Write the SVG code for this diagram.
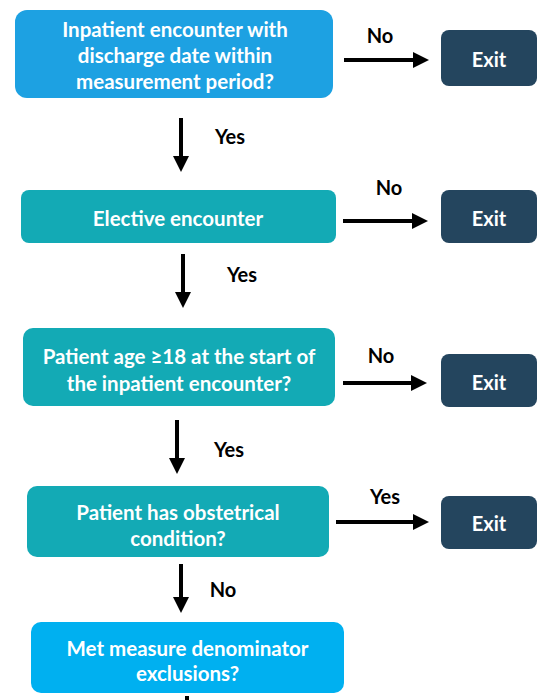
<svg xmlns="http://www.w3.org/2000/svg" width="539" height="700" viewBox="0 0 539 700">
<defs>
<marker id="ah" markerUnits="userSpaceOnUse" markerWidth="16" markerHeight="16" viewBox="0 0 16 16" refX="2" refY="8" orient="auto">
<path d="M0,0 L16,8 L0,16 Z" fill="#000"/>
</marker>
</defs>
<style>
.t{font-family:Lato,"Liberation Sans",sans-serif;font-weight:bold;font-size:20.5px;fill:#fff;text-anchor:middle}
.x{font-family:Lato,"Liberation Sans",sans-serif;font-weight:bold;font-size:20px;fill:#fff;text-anchor:middle}
.l{font-family:Lato,"Liberation Sans",sans-serif;font-weight:bold;font-size:20px;fill:#000;text-anchor:middle}
.exit{fill:#24455E}
.teal{fill:#13AAB5}
.c{stroke:#000;stroke-width:4;fill:none;marker-end:url(#ah)}
</style>
<rect width="539" height="700" fill="#fff"/>
<g id="n1">
<rect x="15" y="10" width="318" height="88" rx="12" fill="#1DA1E2"/>
<text class="t" x="175" y="36.5">Inpatient encounter with</text>
<text class="t" x="175" y="62.5">discharge date within</text>
<text class="t" x="175" y="88.5">measurement period?</text>
</g>
<g id="exit1"><rect class="exit" x="441" y="30" width="96" height="56" rx="8"/><text class="x" x="489" y="67">Exit</text></g>
<g id="n2">
<rect class="teal" x="21" y="190" width="315" height="53" rx="8"/>
<text class="t" x="178" y="225.5">Elective encounter</text>
</g>
<g id="exit2"><rect class="exit" x="441" y="190" width="96" height="53" rx="8"/><text class="x" x="489" y="226">Exit</text></g>
<g id="n3">
<rect class="teal" x="23" y="328" width="312" height="78" rx="10"/>
<text class="t" x="179" y="363.5">Patient age ≥18 at the start of</text>
<text class="t" x="179" y="390.5">the inpatient encounter?</text>
</g>
<g id="exit3"><rect class="exit" x="441" y="354" width="96" height="53" rx="8"/><text class="x" x="489" y="390">Exit</text></g>
<g id="n4">
<rect class="teal" x="27" y="486" width="302" height="71" rx="10"/>
<text class="t" x="178" y="519.5">Patient has obstetrical</text>
<text class="t" x="178" y="545.5">condition?</text>
</g>
<g id="exit4"><rect class="exit" x="441" y="496" width="96" height="53" rx="8"/><text class="x" x="489" y="531">Exit</text></g>
<g id="n5">
<rect x="31" y="622" width="313" height="71" rx="10" fill="#00B0F0"/>
<text class="t" x="187.5" y="655.5">Met measure denominator</text>
<text class="t" x="187.5" y="680.5">exclusions?</text>
</g>
<g id="connectors">
<path class="c" d="M344,60 H415"/>
<path class="c" d="M343,221 H414"/>
<path class="c" d="M343,383 H413"/>
<path class="c" d="M336,522 H415"/>
<path class="c" d="M181,118 V158"/>
<path class="c" d="M183,254 V294"/>
<path class="c" d="M177,420 V460"/>
<path class="c" d="M181,564 V599"/>
<path d="M187,696 V700" stroke="#000" stroke-width="4"/>
<text class="l" x="380" y="43">No</text>
<text class="l" x="230" y="144">Yes</text>
<text class="l" x="389" y="195">No</text>
<text class="l" x="242" y="282">Yes</text>
<text class="l" x="381" y="363">No</text>
<text class="l" x="229" y="457">Yes</text>
<text class="l" x="385" y="504">Yes</text>
<text class="l" x="223" y="597">No</text>
</g>
</svg>
